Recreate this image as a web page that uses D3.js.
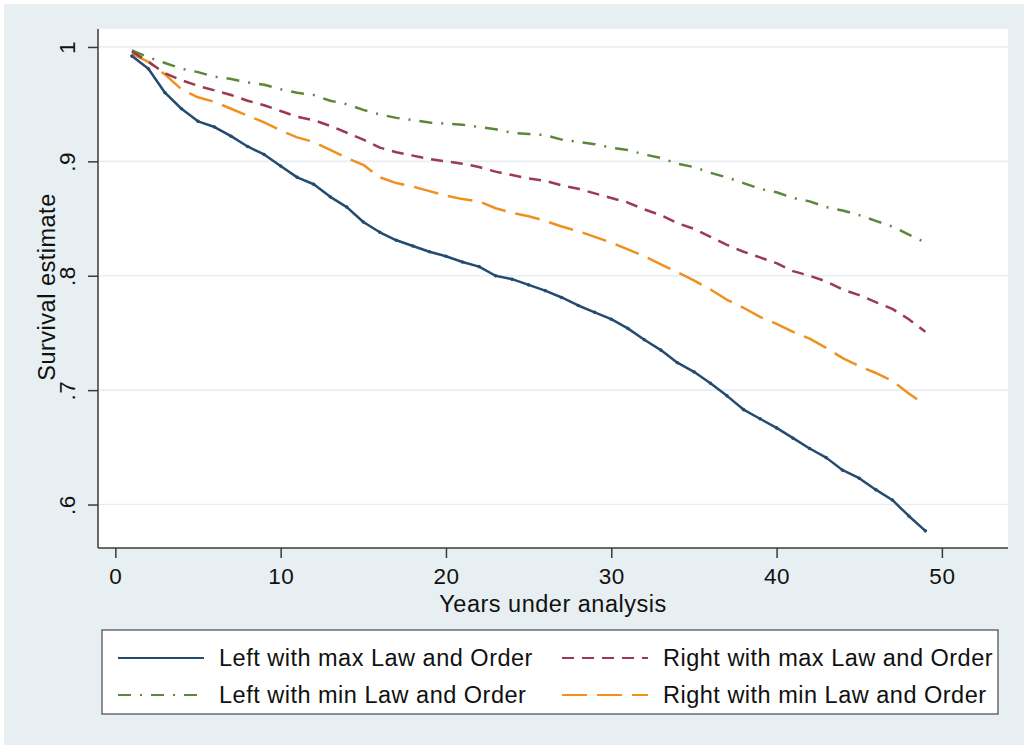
<!DOCTYPE html>
<html>
<head>
<meta charset="utf-8">
<script src="https://cdn.jsdelivr.net/npm/d3@7"></script>
<style>
  html, body { margin: 0; padding: 0; background: #ffffff; }
  svg { display: block; font-family: 'Liberation Sans', Arial, Helvetica, sans-serif; }
  text { letter-spacing: 0.5px; }
</style>
</head>
<body>
<svg id="chart" width="1026" height="749"></svg>
<script>
// years under analysis (1..49)
const years = d3.range(1, 50);

// survival estimates, one value per year
const left_max = [
  0.992, 0.981, 0.960, 0.946, 0.935, 0.930, 0.922, 0.913, 0.906, 0.896,
  0.886, 0.880, 0.869, 0.860, 0.847, 0.838, 0.831, 0.826, 0.821, 0.817,
  0.812, 0.808, 0.800, 0.797, 0.792, 0.787, 0.781, 0.774, 0.768, 0.762,
  0.754, 0.744, 0.735, 0.724, 0.716, 0.706, 0.695, 0.683, 0.675, 0.667,
  0.658, 0.649, 0.641, 0.630, 0.623, 0.613, 0.604, 0.590, 0.577,
];
const right_max = [
  0.996, 0.987, 0.977, 0.971, 0.966, 0.962, 0.958, 0.953, 0.949, 0.944,
  0.939, 0.936, 0.931, 0.925, 0.919, 0.912, 0.908, 0.905, 0.902, 0.900,
  0.898, 0.895, 0.891, 0.888, 0.885, 0.883, 0.879, 0.876, 0.872, 0.868,
  0.864, 0.858, 0.853, 0.846, 0.841, 0.834, 0.827, 0.821, 0.816, 0.811,
  0.804, 0.800, 0.795, 0.788, 0.783, 0.777, 0.771, 0.762, 0.751,
];
const left_min = [
  0.997, 0.991, 0.986, 0.981, 0.978, 0.974, 0.972, 0.969, 0.967, 0.963,
  0.960, 0.958, 0.953, 0.950, 0.945, 0.941, 0.938, 0.936, 0.934, 0.933,
  0.932, 0.930, 0.928, 0.925, 0.924, 0.923, 0.919, 0.917, 0.915, 0.912,
  0.910, 0.906, 0.903, 0.898, 0.895, 0.890, 0.886, 0.881, 0.876, 0.873,
  0.868, 0.865, 0.860, 0.857, 0.853, 0.848, 0.843, 0.836, 0.829,
];
const right_min = [
  0.994, 0.987, 0.976, 0.963, 0.956, 0.952, 0.946, 0.940, 0.934, 0.927,
  0.921, 0.917, 0.910, 0.903, 0.897, 0.886, 0.881, 0.878, 0.874, 0.870,
  0.867, 0.865, 0.859, 0.855, 0.852, 0.848, 0.843, 0.839, 0.834, 0.829,
  0.823, 0.817, 0.810, 0.803, 0.796, 0.788, 0.779, 0.772, 0.764, 0.758,
  0.751, 0.745, 0.737, 0.728, 0.721, 0.715, 0.708, 0.697, 0.687,
];

const series_labels = [
  'Left with max Law and Order',
  'Right with max Law and Order',
  'Left with min Law and Order',
  'Right with min Law and Order',
];
const x_ticks = [0, 10, 20, 30, 40, 50];
const y_ticks = [0.6, 0.7, 0.8, 0.9, 1];
const y_tick_labels = ['.6', '.7', '.8', '.9', '1'];

const series = [
  { label: series_labels[0], values: left_max, color: '#244c70', dash: null, dots: true },
  { label: series_labels[1], values: right_max, color: '#9c3a4f', dash: '12,8', dots: false },
  { label: series_labels[2], values: left_min, color: '#5b8838', dash: '13,9,2,9', dots: false },
  { label: series_labels[3], values: right_min, color: '#ef901f', dash: '25,10', dots: false },
];

const svg = d3.select('#chart');
const bg = '#e8eff2';
const font_size = 23.5;

const plot = { left: 98, right: 1008, top: 29, bottom: 548 };

svg.append('rect')
  .attr('x', 4).attr('y', 4)
  .attr('width', 1020).attr('height', 741)
  .attr('fill', bg);

svg.append('rect')
  .attr('x', plot.left).attr('y', plot.top)
  .attr('width', plot.right - plot.left)
  .attr('height', plot.bottom - plot.top)
  .attr('fill', '#ffffff');

const x = d3.scaleLinear([-1.05, 54.0], [plot.left, plot.right]);
const y = d3.scaleLinear([0.562, 1.0157], [plot.bottom, plot.top]);

// gridlines
svg.append('g')
  .selectAll('line')
  .data(y_ticks)
  .join('line')
  .attr('x1', plot.left).attr('x2', plot.right)
  .attr('y1', (d) => y(d)).attr('y2', (d) => y(d))
  .attr('stroke', '#e6eef1')
  .attr('stroke-width', 1.6);

// y axis
const y_axis = svg.append('g')
  .attr('transform', `translate(${plot.left},0)`)
  .call(d3.axisLeft(y).tickValues(y_ticks).tickSize(10).tickFormat((d, i) => y_tick_labels[i]));
y_axis.select('.domain')
  .attr('d', `M0,${plot.top}V${plot.bottom}`)
  .attr('stroke', '#3a3a3a').attr('stroke-width', 1.5);
y_axis.selectAll('.tick line').attr('stroke', '#3a3a3a').attr('stroke-width', 1.5);
y_axis.selectAll('.tick text')
  .attr('x', null).attr('dy', null)
  .attr('fill', '#111')
  .attr('font-size', 22.5)
  .attr('text-anchor', 'middle')
  .attr('transform', 'translate(-23,0) rotate(-90)');

// x axis
const x_axis = svg.append('g')
  .attr('transform', `translate(0,${plot.bottom})`)
  .call(d3.axisBottom(x).tickValues(x_ticks).tickSize(10).tickFormat(d3.format('d')));
x_axis.select('.domain')
  .attr('d', `M${plot.left},0H${plot.right}`)
  .attr('stroke', '#3a3a3a').attr('stroke-width', 1.5);
x_axis.selectAll('.tick line').attr('stroke', '#3a3a3a').attr('stroke-width', 1.5);
x_axis.selectAll('.tick text')
  .attr('y', 36).attr('dy', null)
  .attr('fill', '#111')
  .attr('font-size', 22.5);

// axis titles
svg.append('text')
  .attr('transform', 'translate(55,287) rotate(-90)')
  .attr('text-anchor', 'middle')
  .attr('font-size', font_size)
  .attr('fill', '#111')
  .text('Survival estimate');

svg.append('text')
  .attr('x', (plot.left + plot.right) / 2)
  .attr('y', 612)
  .attr('text-anchor', 'middle')
  .attr('font-size', font_size)
  .attr('fill', '#111')
  .text('Years under analysis');

// curves
const line = d3.line()
  .x((d) => x(d[0]))
  .y((d) => y(d[1]));

const draw_order = [3, 2, 1, 0];
const lines_g = svg.append('g');
draw_order.forEach((k) => {
  const s = series[k];
  const pts = years.map((yr, i) => [yr, s.values[i]]);
  lines_g.append('path')
    .datum(pts)
    .attr('fill', 'none')
    .attr('stroke', s.color)
    .attr('stroke-width', 2.5)
    .attr('stroke-dasharray', s.dash)
    .attr('stroke-linejoin', 'round')
    .attr('d', line);
  if (s.dots) {
    lines_g.append('g')
      .selectAll('circle')
      .data(pts)
      .join('circle')
      .attr('cx', (d) => x(d[0]))
      .attr('cy', (d) => y(d[1]))
      .attr('r', 1.8)
      .attr('fill', s.color);
  }
});

// legend
const legend = svg.append('g');
legend.append('rect')
  .attr('x', 102).attr('y', 630)
  .attr('width', 896).attr('height', 84)
  .attr('fill', '#ffffff')
  .attr('stroke', '#555')
  .attr('stroke-width', 1.3);

const legend_pos = [
  { x: 118, y: 658 },
  { x: 562, y: 658 },
  { x: 118, y: 695 },
  { x: 562, y: 695 },
];
series.forEach((s, i) => {
  const p = legend_pos[i];
  legend.append('line')
    .attr('x1', p.x).attr('x2', p.x + 86)
    .attr('y1', p.y).attr('y2', p.y)
    .attr('stroke', s.color)
    .attr('stroke-width', 2.2)
    .attr('stroke-dasharray', s.dash);
  legend.append('text')
    .attr('x', p.x + 101)
    .attr('y', p.y + 8)
    .attr('font-size', font_size)
    .attr('fill', '#111')
    .text(s.label);
});
</script>
</body>
</html>
